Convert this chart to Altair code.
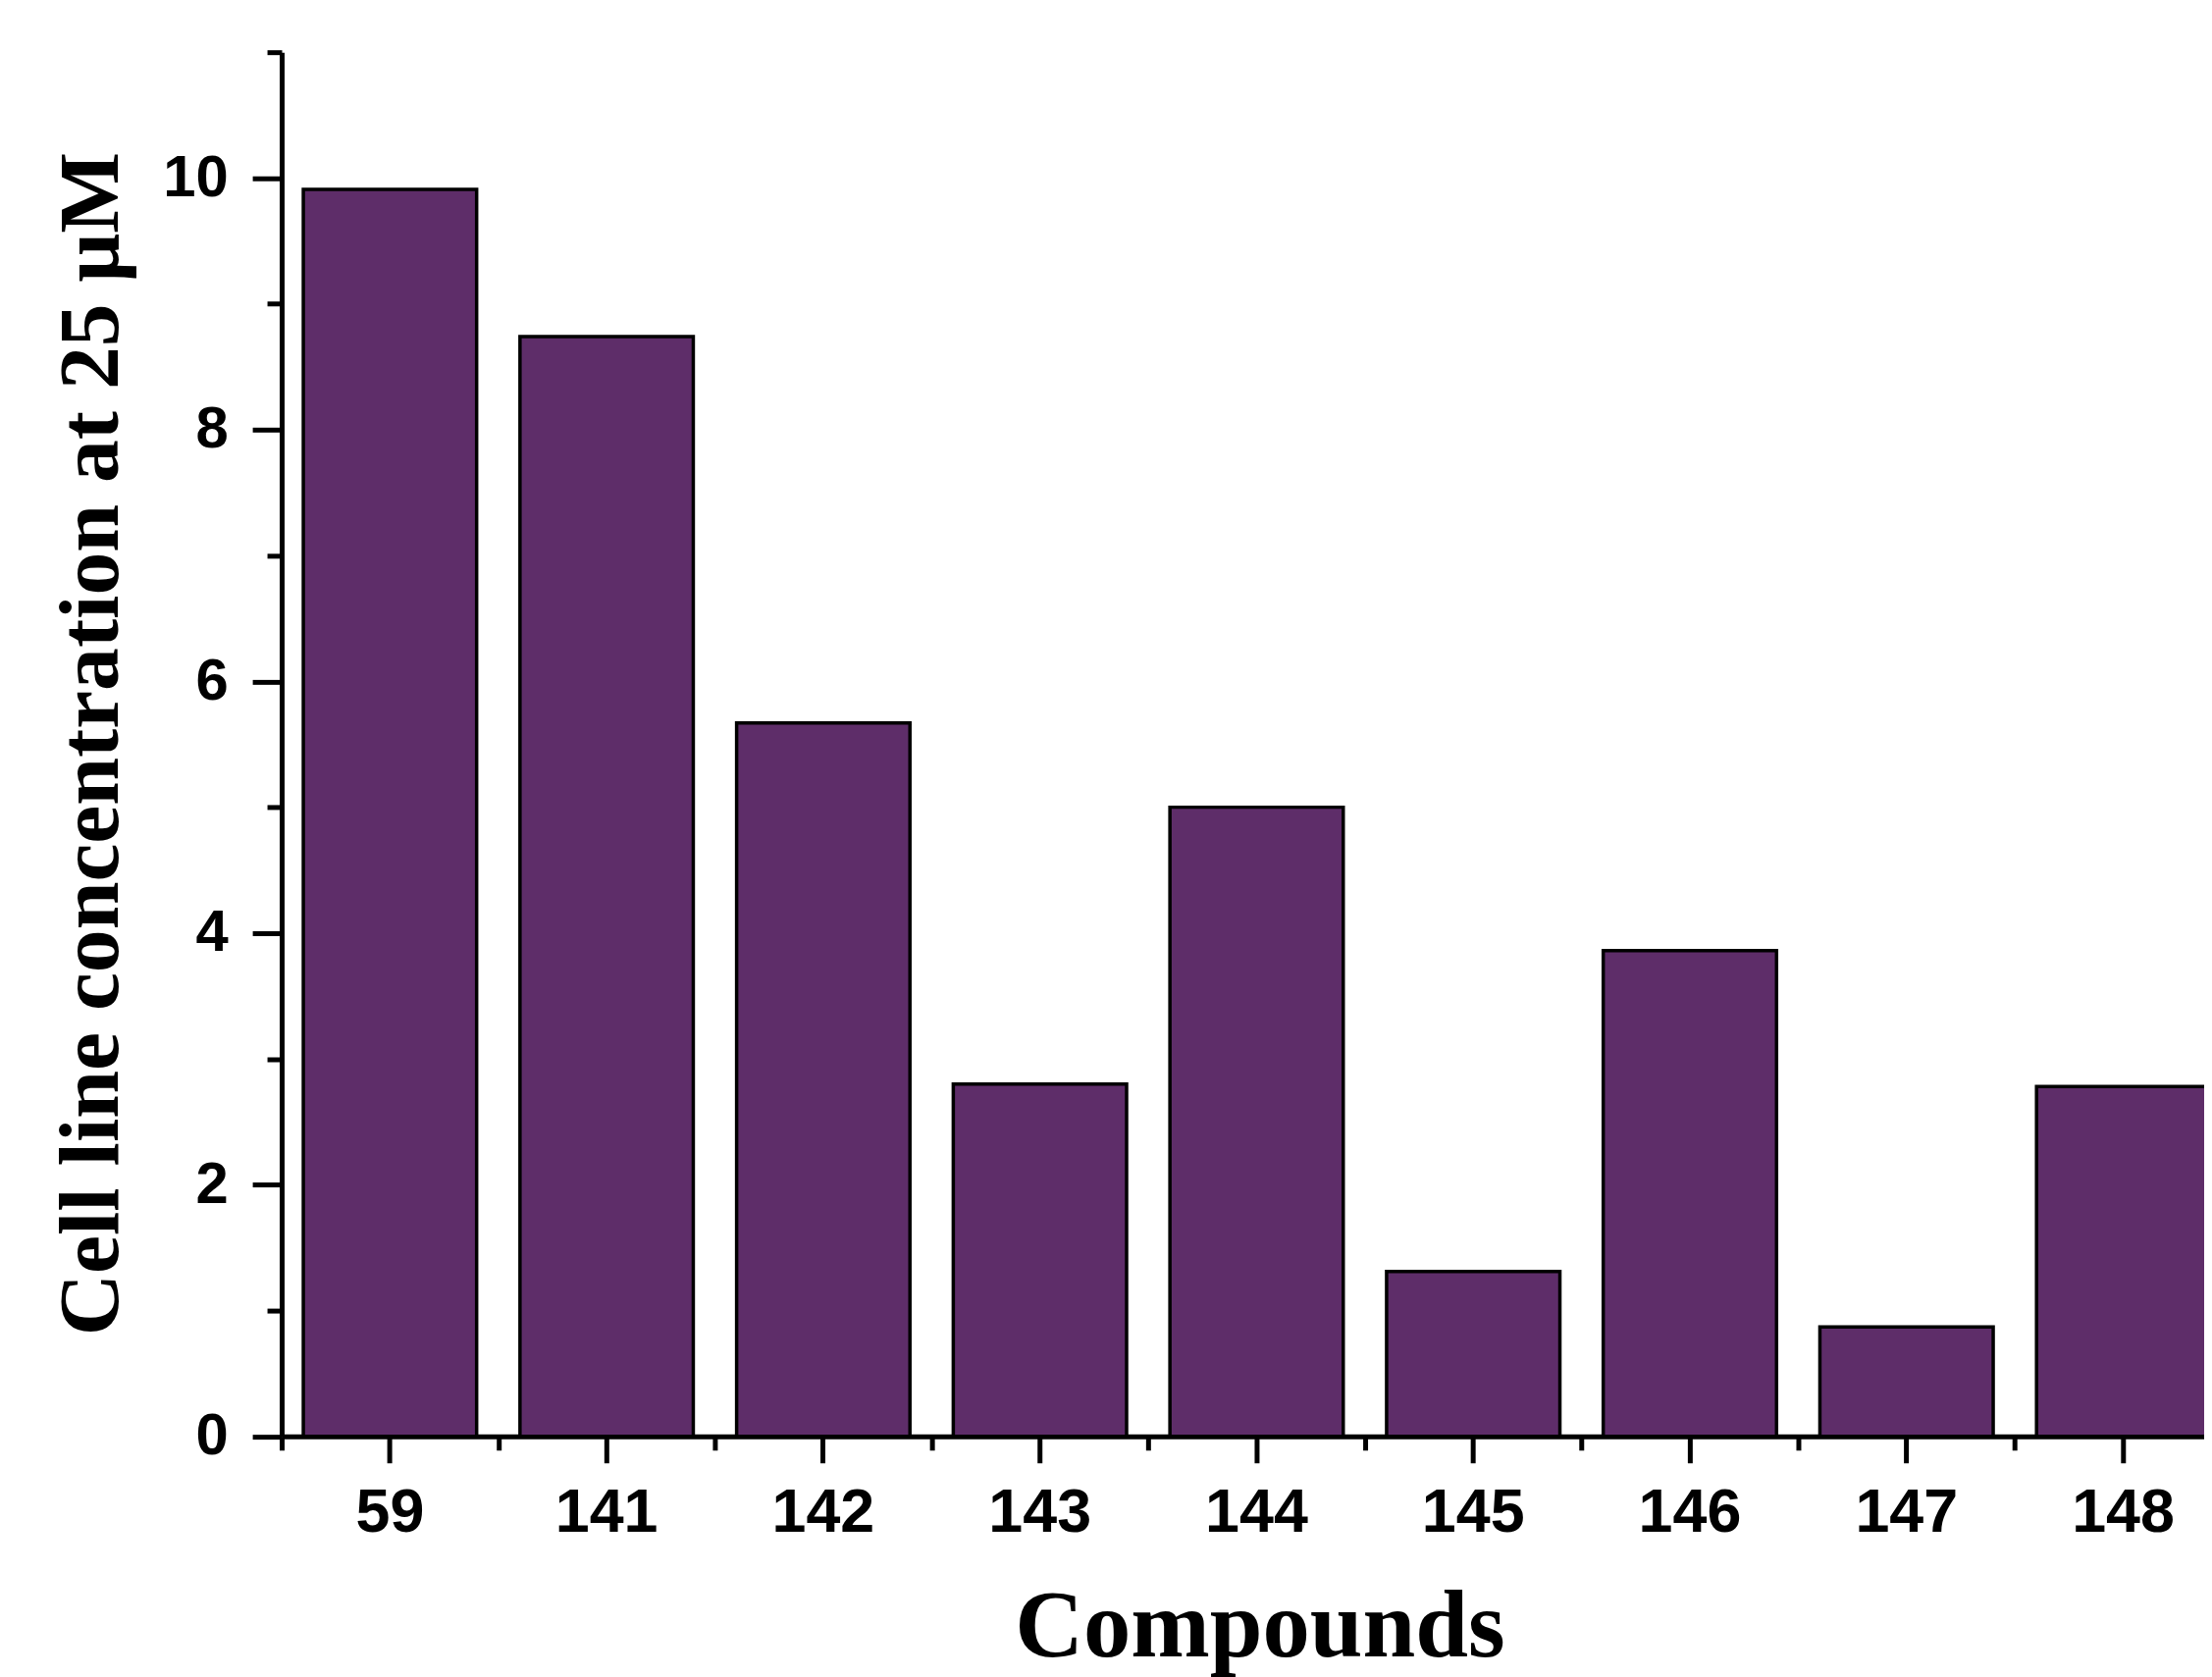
import altair as alt
import pandas as pd

compounds = ["59", "141", "142", "143", "144", "145", "146", "147", "148"]
values = [9.91, 8.74, 5.67, 2.80, 5.00, 1.31, 3.86, 0.87, 2.78]
y_major = [0, 2, 4, 6, 8, 10]
y_minor = [1, 3, 5, 7, 9, 11]

df = pd.DataFrame({"compound": compounds, "value": values})

BAR_FILL = "#5e2d69"
SANS = "Liberation Sans"
SERIF = "Liberation Serif"

RANGE_W = 1994
PAD_IN = 0.2
PAD_OUT = 0.1
STEP = RANGE_W / len(compounds)

x_scale = alt.Scale(domain=compounds, range=[0, RANGE_W], paddingInner=PAD_IN, paddingOuter=PAD_OUT)
y_scale = alt.Scale(domain=[0, 11], nice=False, zero=True)

x_axis_main = alt.Axis(
    title="Compounds", orient="bottom",
    titleFont=SERIF, titleFontSize=97, titleFontWeight="bold", titleColor="black",
    titleX=1000, titleY=224, titleBaseline="alphabetic", titleAlign="center",
    labelFont=SANS, labelFontSize=63, labelFontWeight="bold", labelColor="black",
    labelAngle=0, labelPadding=20, labelOverlap=False,
    tickSize=27, tickWidth=5, tickColor="black",
    domainColor="black", domainWidth=5, grid=False,
)
y_axis_main = alt.Axis(
    title="Cell line concentration at 25 μM", orient="left", values=y_major, format="d",
    titleFont=SERIF, titleFontSize=88, titleFontWeight="bold", titleColor="black",
    titleX=-168, titleY=707, titleAngle=270, titleBaseline="alphabetic", titleAlign="center",
    labelFont=SANS, labelFontSize=60, labelFontWeight="bold", labelColor="black",
    labelPadding=25,
    tickSize=30, tickWidth=5, tickColor="black",
    domainColor="black", domainWidth=5, grid=False,
)
x_axis_minor = alt.Axis(
    title=None, orient="bottom", labels=False,
    bandPosition=0, tickOffset=-PAD_OUT * STEP, tickExtra=False,
    tickSize=14, tickWidth=5, tickColor="black", domain=False, grid=False,
)
y_axis_minor = alt.Axis(
    title=None, orient="left", labels=False, values=y_minor,
    tickSize=15, tickWidth=5, tickColor="black", domain=False, grid=False,
)

bars = alt.Chart(df).mark_bar(fill=BAR_FILL, stroke="black", strokeWidth=3.5).encode(
    x=alt.X("compound:N", sort=None, scale=x_scale, axis=x_axis_main),
    y=alt.Y("value:Q", scale=y_scale, axis=y_axis_main),
)
minor = alt.Chart(df).mark_bar(opacity=0).encode(
    x=alt.X("compound:N", sort=None, scale=x_scale, axis=x_axis_minor),
    y=alt.Y("value:Q", scale=y_scale, axis=y_axis_minor),
)

chart = (
    alt.layer(bars, minor)
    .resolve_axis(x="independent", y="independent")
    .properties(
        width=1966, height=1415.7,
        autosize=alt.AutoSizeParams(type="none"),
        padding={"left": 280, "top": 42.3, "right": 0, "bottom": 243},
        background="white",
    )
    .configure_view(stroke=None)
)

chart.save("out.html", embed_options={"renderer": "svg", "actions": False})
